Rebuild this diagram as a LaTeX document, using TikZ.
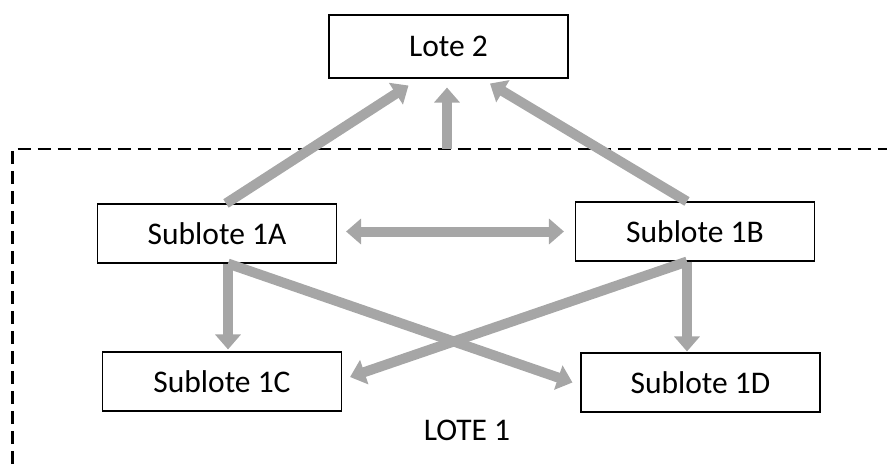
\documentclass[tikz,border=0pt]{standalone}
\usepackage{fontspec}
\setmainfont{Carlito}
\usetikzlibrary{arrows.meta}
\definecolor{flechagris}{HTML}{A6A6A6}
\tikzset{
  lotebox/.style={draw, line width=1.1pt, fill=white, minimum width=239pt, minimum height=59pt, inner sep=0pt, font=\fontsize{31.5}{36}\selectfont},
  punta/.tip={Triangle[width=25pt,length=15pt]},
  flecha/.style={draw=flechagris, line width=10pt, -punta},
  dobleflecha/.style={draw=flechagris, line width=10pt, punta-punta},
}
\begin{document}
\begin{tikzpicture}[x=1pt, y=-1pt]
\useasboundingbox (0,0) rectangle (887,464);
% borde de lote 1
\draw[dashed, line width=2.4pt, dash pattern=on 13pt off 7pt] (12.5,464) -- (12.5,149) -- (887,149);
\node[lotebox, minimum height=63pt] (lote2) at (448.5,46.5) {Lote 2};
\node[lotebox] (sub1a) at (217,233.5) {Sublote 1A};
\node[lotebox] (sub1b) at (695,231.5) {Sublote 1B};
\node[lotebox] (sub1c) at (222,381.5) {Sublote 1C};
\node[lotebox] (sub1d) at (700.5,382.5) {Sublote 1D};
\node[font=\fontsize{31.5}{36}\selectfont] (lote1) at (467,430) {LOTE 1};
\coordinate (borde) at (447,149);
% flechas hacia lote 2
\draw[flecha] ([xshift=9pt]sub1a.north) -- ([xshift=-40pt,yshift=-7pt]lote2.south);
\draw[flecha] (borde) -- ([xshift=-1.5pt,yshift=-9pt]lote2.south);
\draw[flecha] ([xshift=-8pt]sub1b.north) -- ([xshift=41.5pt,yshift=-5pt]lote2.south);
% flechas entre sublotes
\draw[dobleflecha] ([xshift=9pt,yshift=2pt]sub1a.east) -- ([xshift=-11pt]sub1b.west);
\draw[flecha] ([xshift=11pt]sub1a.south) -- ([xshift=6pt,yshift=2pt]sub1c.north);
\draw[flecha] ([xshift=-8pt]sub1b.south) -- ([xshift=-13.5pt,yshift=1pt]sub1d.north);
\draw[flecha] ([xshift=11pt]sub1a.south) -- ([xshift=-8pt]sub1d.west);
\draw[flecha] ([xshift=-8pt]sub1b.south) -- ([xshift=8pt,yshift=4.5pt]sub1c.east);
\end{tikzpicture}
\end{document}
